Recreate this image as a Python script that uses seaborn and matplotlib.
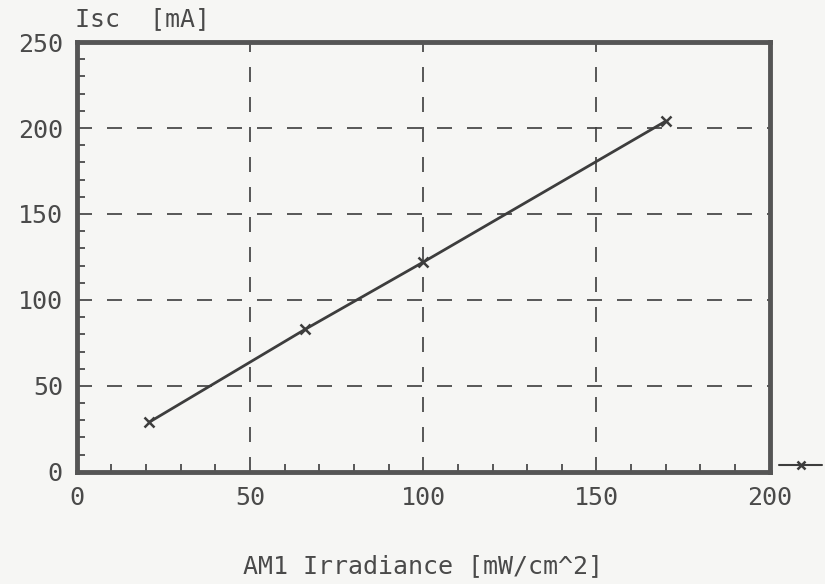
import matplotlib
matplotlib.use("Agg")
import matplotlib.pyplot as plt
import seaborn as sns
import pandas as pd
from matplotlib.lines import Line2D
from matplotlib.ticker import MultipleLocator

irradiance = [21, 66, 100, 170]
isc = [29, 83, 122, 204]
x_ticks = [0, 50, 100, 150, 200]
y_ticks = [0, 50, 100, 150, 200, 250]

df = pd.DataFrame({"irr": irradiance, "isc": isc})

sns.set_theme(style="white")
plt.rcParams['font.family'] = ['DejaVu Sans Mono', 'DejaVu Sans']

ink = "#3d3d3d"
paper = "#f6f6f4"
txt = "#4a4a4a"

fig = plt.figure(figsize=(8.25, 5.84), dpi=100, facecolor=paper)
ax = fig.add_axes([0.093, 0.192, 0.84, 0.736])
ax.set_facecolor(paper)

sns.lineplot(data=df, x="irr", y="isc", ax=ax, color=ink, linewidth=2.0,
             marker="x", markersize=7, markeredgewidth=1.8, markeredgecolor=ink)

ax.set_xlim(0, 200)
ax.set_ylim(0, 250)
ax.set_xticks(x_ticks)
ax.set_yticks(y_ticks)
ax.xaxis.set_minor_locator(MultipleLocator(10))
ax.yaxis.set_minor_locator(MultipleLocator(10))
ax.tick_params(axis="both", which="major", direction="in", length=0,
               labelsize=18, labelcolor=txt, pad=10)
ax.tick_params(axis="both", which="minor", direction="in", length=6,
               width=1.2, color=ink, bottom=True, left=True)
ax.tick_params(axis="both", which="major", bottom=True, left=True)

ax.grid(True, which="major", axis="both", linestyle=(0, (9, 9)),
        color=ink, linewidth=1.2)
for s in ax.spines.values():
    s.set_linewidth(3.5)
    s.set_color("#555555")

ax.set_xlabel("AM1 Irradiance [mW/cm^2]", fontsize=18, color=txt, labelpad=32)
ax.set_ylabel("")
fig.text(0.091, 0.967, "Isc  [mA]", fontsize=18, color=txt, ha="left", va="center")

handle = Line2D([], [], color=ink, linewidth=1.5, marker="x", markersize=6,
                markeredgewidth=1.8)
ax.legend(handles=[handle], labels=[""], loc="center left",
          bbox_to_anchor=(1.005, 0.015), frameon=False, handlelength=2.8,
          handletextpad=0, borderaxespad=0)

fig.savefig("out.png", dpi=100, facecolor=paper)
